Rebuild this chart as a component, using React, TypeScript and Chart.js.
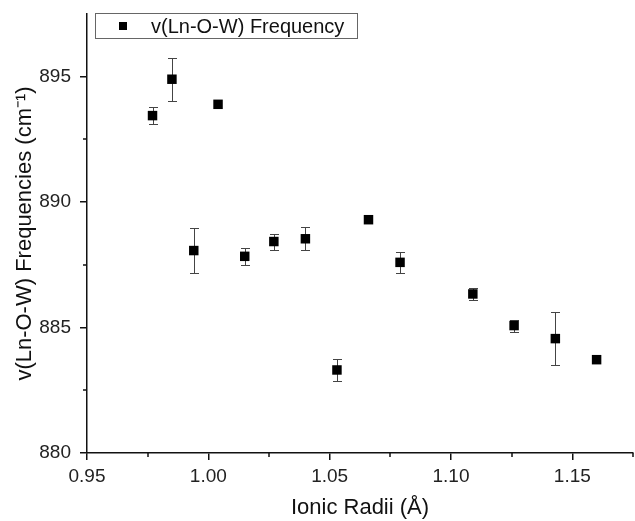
import React, { useEffect, useRef } from "react";
import { Chart, registerables } from "chart.js";

Chart.register(...registerables);

const seriesLabel = "v(Ln-O-W) Frequency";
const ionicRadii = [0.977, 0.985, 0.994, 1.004, 1.015, 1.027, 1.040, 1.053, 1.066, 1.079, 1.109, 1.126, 1.143, 1.160];
const frequencies = [893.45, 894.9, 888.07, 893.9, 887.84, 888.43, 888.54, 883.31, 889.3, 887.6, 886.34, 885.08, 884.56, 883.72];
const errors = [0.34, 0.85, 0.89, 0.0, 0.35, 0.32, 0.45, 0.42, 0.0, 0.43, 0.25, 0.24, 1.07, 0.0];
const xTitle = "Ionic Radii (Å)";
const yTitle = "v(Ln-O-W) Frequencies (cm⁻¹)";
const xMinorTicks = [0.975, 1.025, 1.075, 1.125, 1.175];
const yMinorTicks = [882.5, 887.5, 892.5];

const FONT = "'Liberation Sans', Arial, sans-serif";

const extrasPlugin = {
  id: "extras",
  beforeDatasetsDraw(chart: any) {
    const ctx = chart.ctx;
    const xs = chart.scales.x;
    const ys = chart.scales.y;
    ctx.save();
    ctx.strokeStyle = "#444";
    ctx.lineWidth = 1;
    for (let i = 0; i < ionicRadii.length; i++) {
      const e = errors[i];
      if (!e) continue;
      const px = Math.round(xs.getPixelForValue(ionicRadii[i])) + 0.5;
      const top = Math.round(ys.getPixelForValue(frequencies[i] + e)) + 0.5;
      const bot = Math.round(ys.getPixelForValue(frequencies[i] - e)) + 0.5;
      ctx.beginPath();
      ctx.moveTo(px, top);
      ctx.lineTo(px, bot);
      ctx.moveTo(px - 4.5, top);
      ctx.lineTo(px + 4.5, top);
      ctx.moveTo(px - 4.5, bot);
      ctx.lineTo(px + 4.5, bot);
      ctx.stroke();
    }
    ctx.restore();
  },
  afterDraw(chart: any) {
    const ctx = chart.ctx;
    const xs = chart.scales.x;
    const ys = chart.scales.y;
    const area = chart.chartArea;
    ctx.save();
    ctx.strokeStyle = "#111";
    ctx.lineWidth = 1.5;
    ctx.beginPath();
    for (const v of xMinorTicks) {
      const px = Math.round(xs.getPixelForValue(v));
      ctx.moveTo(px, area.bottom);
      ctx.lineTo(px, area.bottom + 4);
    }
    for (const v of yMinorTicks) {
      const py = Math.round(ys.getPixelForValue(v));
      ctx.moveTo(area.left, py);
      ctx.lineTo(area.left - 4, py);
    }
    ctx.stroke();

    // legend
    const lx = 95, ly = 13, lw = 262, lh = 25;
    ctx.strokeStyle = "#666";
    ctx.lineWidth = 1;
    ctx.fillStyle = "#fff";
    ctx.fillRect(lx, ly, lw, lh);
    ctx.strokeRect(lx + 0.5, ly + 0.5, lw, lh);
    ctx.fillStyle = "#000";
    ctx.fillRect(119, 22, 8, 8);
    ctx.fillStyle = "#111";
    ctx.font = `20px ${FONT}`;
    ctx.textBaseline = "middle";
    ctx.textAlign = "left";
    ctx.fillText(seriesLabel, 151, 27);
    ctx.restore();
  },
};

export default function App() {
  const ref = useRef<HTMLCanvasElement | null>(null);
  useEffect(() => {
    if (!ref.current) return;
    const chart = new Chart(ref.current, {
      type: "scatter",
      data: {
        datasets: [
          {
            label: seriesLabel,
            data: ionicRadii.map((x, i) => ({ x, y: frequencies[i] })),
            pointStyle: "rect",
            pointRadius: 6.7,
            backgroundColor: "#000",
            borderColor: "#000",
            borderWidth: 0,
          },
        ],
      },
      options: {
        animation: false,
        responsive: false,
        layout: { autoPadding: false, padding: { left: 0, right: 2, top: 14, bottom: 0 } },
        plugins: { legend: { display: false }, tooltip: { enabled: false } },
        scales: {
          x: {
            type: "linear",
            min: 0.95,
            max: 1.175,
            afterFit: (s: any) => { s.height = 68; s.paddingLeft = 0; s.paddingRight = 0; },
            ticks: {
              stepSize: 0.05,
              includeBounds: false,
              color: "#222",
              font: { family: FONT, size: 19 },
              padding: 5,
              callback: (v: any) => Number(v).toFixed(2),
            },
            grid: { drawOnChartArea: false, tickLength: 7, color: "#111", lineWidth: 1.5 },
            border: { color: "#111", width: 1.5 },
            title: { display: true, text: xTitle, color: "#111", font: { family: FONT, size: 22 }, padding: { top: 6, bottom: 0 } },
          },
          y: {
            type: "linear",
            min: 880,
            max: 897.5,
            afterFit: (s: any) => { s.width = 87; s.paddingTop = 0; s.paddingBottom = 0; },
            ticks: {
              stepSize: 5,
              includeBounds: false,
              color: "#222",
              font: { family: FONT, size: 19 },
              padding: 9,
            },
            grid: { drawOnChartArea: false, tickLength: 7, color: "#111", lineWidth: 1.5 },
            border: { color: "#111", width: 1.5 },
            title: { display: true, text: yTitle, color: "#111", font: { family: FONT, size: 22 }, padding: { top: 12, bottom: 4 } },
          },
        },
      },
      plugins: [extrasPlugin],
    } as any);
    return () => chart.destroy();
  }, []);
  return (
    <div style={{ position: "absolute", left: 0, top: 0, width: 635, height: 521, background: "#fff" }}>
      <canvas ref={ref} width={635} height={521} style={{ width: 635, height: 521 }} />
    </div>
  );
}
